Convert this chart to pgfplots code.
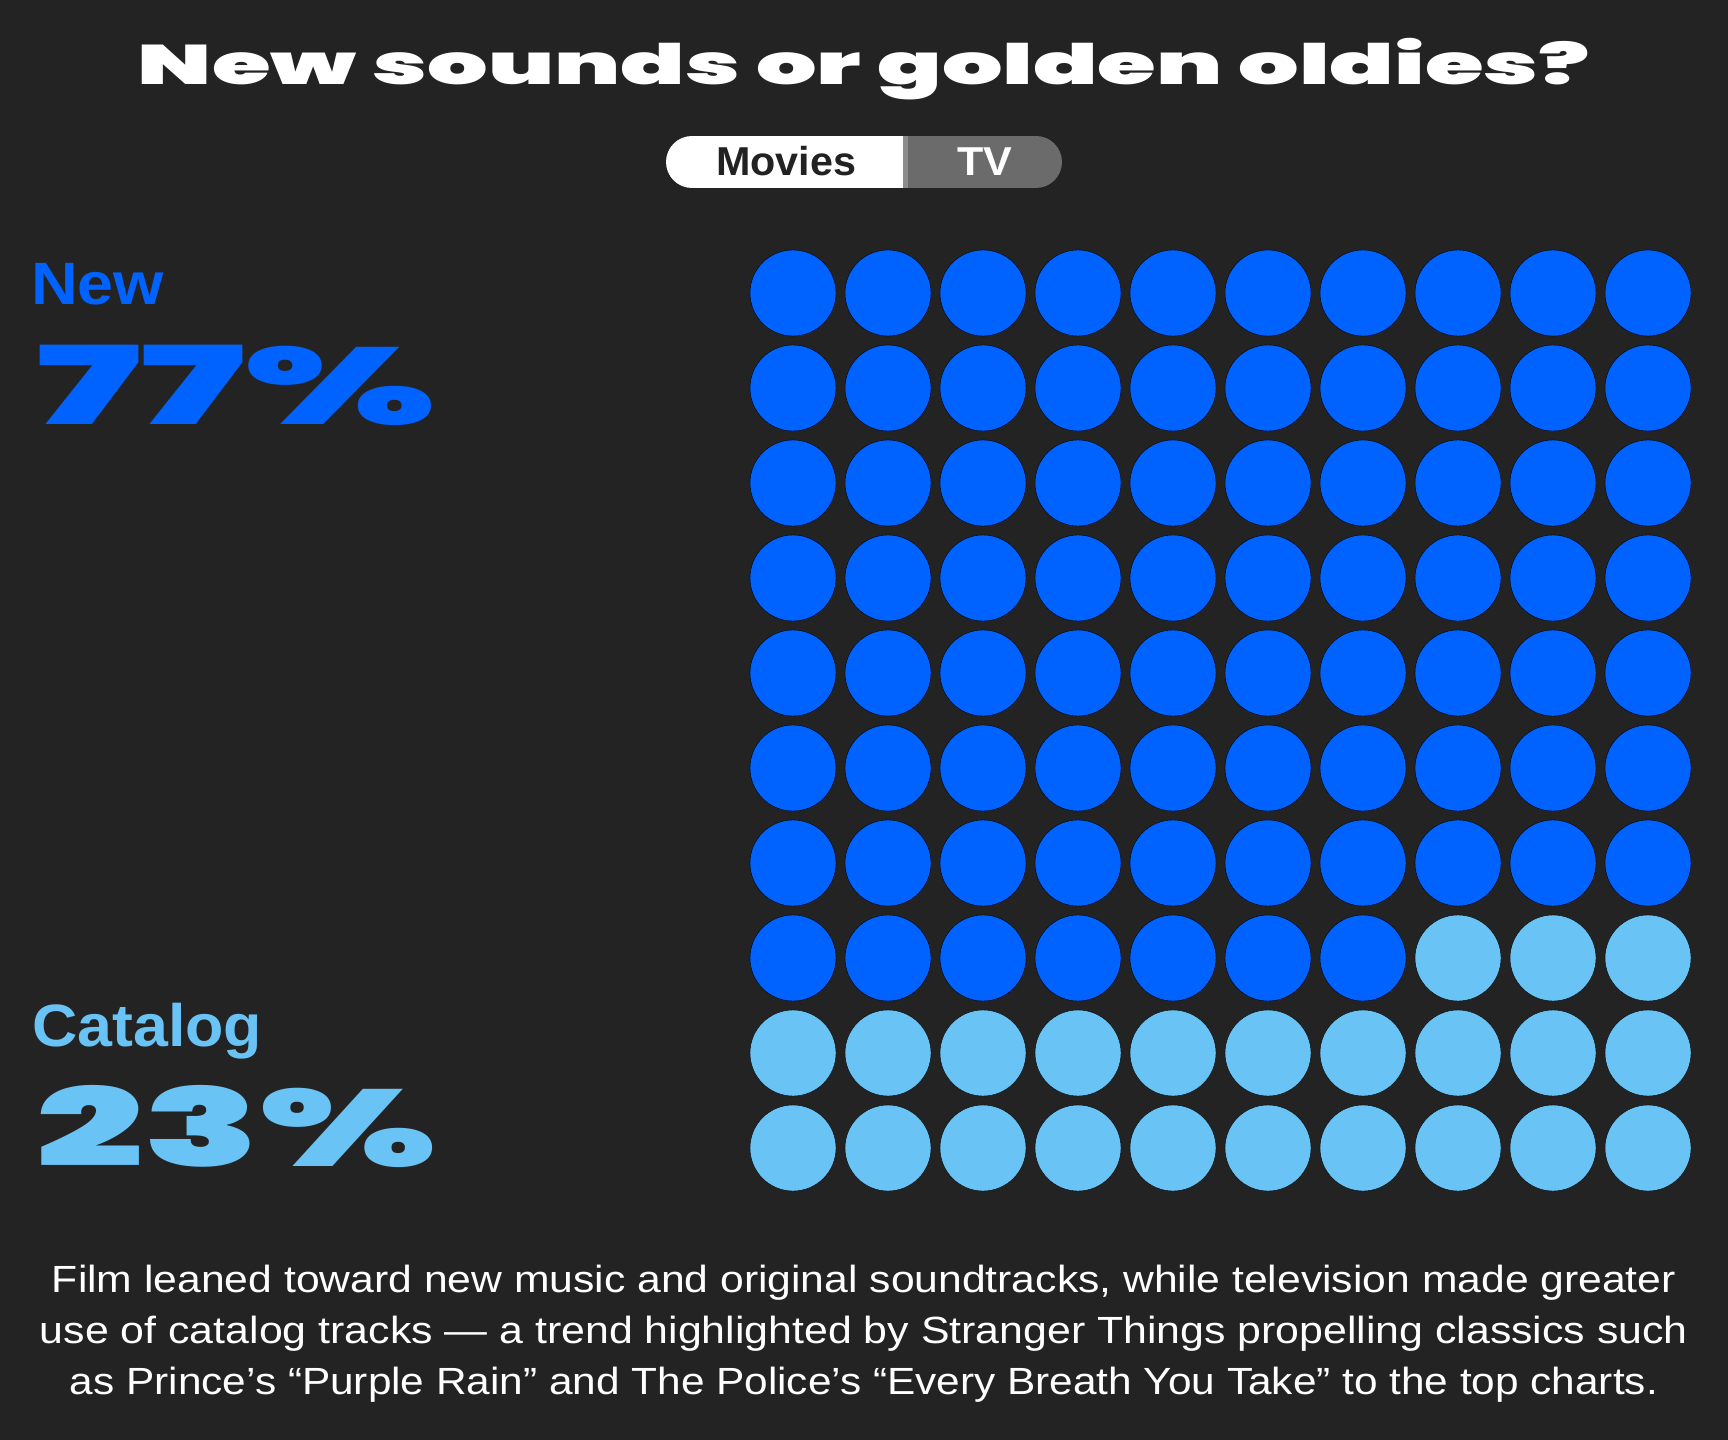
\documentclass[border=0pt]{standalone}
\usepackage{pgfplots}
\pgfplotsset{compat=1.18}
\usepackage{pgfplotstable}
\usepackage{graphicx}
\usepackage{fontspec}
\setmainfont{Liberation Sans}
\newfontfamily\heavy{Poppins Black}
\definecolor{bg}{HTML}{232323}
\definecolor{newblue}{HTML}{0062FF}
\definecolor{catblue}{HTML}{6AC3F5}
\definecolor{pilldark}{HTML}{6B6B6B}
\definecolor{pillline}{HTML}{8C8C8C}
\definecolor{darktext}{HTML}{222222}

% New: 77 dots (column c, row r)
\pgfplotstableread{
c r
0 0
1 0
2 0
3 0
4 0
5 0
6 0
7 0
8 0
9 0
0 1
1 1
2 1
3 1
4 1
5 1
6 1
7 1
8 1
9 1
0 2
1 2
2 2
3 2
4 2
5 2
6 2
7 2
8 2
9 2
0 3
1 3
2 3
3 3
4 3
5 3
6 3
7 3
8 3
9 3
0 4
1 4
2 4
3 4
4 4
5 4
6 4
7 4
8 4
9 4
0 5
1 5
2 5
3 5
4 5
5 5
6 5
7 5
8 5
9 5
0 6
1 6
2 6
3 6
4 6
5 6
6 6
7 6
8 6
9 6
0 7
1 7
2 7
3 7
4 7
5 7
6 7
}\newtab

% Catalog: 23 dots
\pgfplotstableread{
c r
7 7
8 7
9 7
0 8
1 8
2 8
3 8
4 8
5 8
6 8
7 8
8 8
9 8
0 9
1 9
2 9
3 9
4 9
5 9
6 9
7 9
8 9
9 9
}\cattab

\begin{document}
\begin{tikzpicture}
\fill[bg] (0,0) rectangle (1728bp,1440bp);
\begin{axis}[
  at={(0,0)}, anchor=south west,
  width=1728bp, height=1440bp, scale only axis,
  xmin=0, xmax=1728, ymin=0, ymax=1440, y dir=reverse,
  hide axis, clip=false,
]
% dots
\addplot[only marks, mark=*, mark size=43bp, mark options={draw=none, fill=newblue}]
  table[x expr=793+95*\thisrow{c}, y expr=293+95*\thisrow{r}] {\newtab};
\addplot[only marks, mark=*, mark size=43bp, mark options={draw=none, fill=catblue}]
  table[x expr=793+95*\thisrow{c}, y expr=293+95*\thisrow{r}] {\cattab};

% title
\node[anchor=base, inner sep=0, text=white] at (axis cs:864,85)
  {\resizebox{1452bp}{\height}{\heavy\fontsize{56}{56}\selectfont New sounds or golden oldies?}};

% toggle
\begin{scope}
\clip[rounded corners=26bp] (axis cs:666,136) rectangle (axis cs:1062,188);
\fill[white] (axis cs:666,136) rectangle (axis cs:904,188);
\fill[pillline] (axis cs:903,136) rectangle (axis cs:909,188);
\fill[pilldark] (axis cs:908,136) rectangle (axis cs:1062,188);
\end{scope}
\node[anchor=base, inner sep=0, text=darktext] at (axis cs:786,176)
  {\resizebox{140bp}{\height}{\fontsize{40.5}{40.5}\selectfont\bfseries Movies}};
\node[anchor=base, inner sep=0, text=white] at (axis cs:985,176)
  {\resizebox{55bp}{\height}{\fontsize{40.5}{40.5}\selectfont\bfseries TV}};

% left labels
\node[anchor=base west, inner sep=0, text=newblue] at (axis cs:31,304)
  {\resizebox{133bp}{\height}{\fontsize{60}{60}\selectfont\bfseries New}};
\node[anchor=base west, inner sep=0, text=newblue] at (axis cs:36,424)
  {\resizebox{400bp}{\height}{\heavy\fontsize{109}{109}\selectfont 77\%}};
\node[anchor=base west, inner sep=0, text=catblue] at (axis cs:32,1046)
  {\resizebox{230bp}{\height}{\fontsize{60}{60}\selectfont\bfseries Catalog}};
\node[anchor=base west, inner sep=0, text=catblue] at (axis cs:36,1166)
  {\resizebox{400bp}{\height}{\heavy\fontsize{109}{109}\selectfont 23\%}};

% footer
\node[anchor=base, inner sep=0, text=white] at (axis cs:864,1292)
  {\resizebox{1624bp}{\height}{\fontsize{38}{38}\selectfont Film leaned toward new music and original soundtracks, while television made greater}};
\node[anchor=base, inner sep=0, text=white] at (axis cs:864,1343)
  {\resizebox{1648bp}{\height}{\fontsize{38}{38}\selectfont use of catalog tracks — a trend highlighted by Stranger Things propelling classics such}};
\node[anchor=base, inner sep=0, text=white] at (axis cs:864,1394)
  {\resizebox{1588bp}{\height}{\fontsize{38}{38}\selectfont as Prince’s “Purple Rain” and The Police’s “Every Breath You Take” to the top charts.}};
\end{axis}
\pgfresetboundingbox
\path[use as bounding box] (0,0) rectangle (1728bp,1440bp);
\end{tikzpicture}
\end{document}
